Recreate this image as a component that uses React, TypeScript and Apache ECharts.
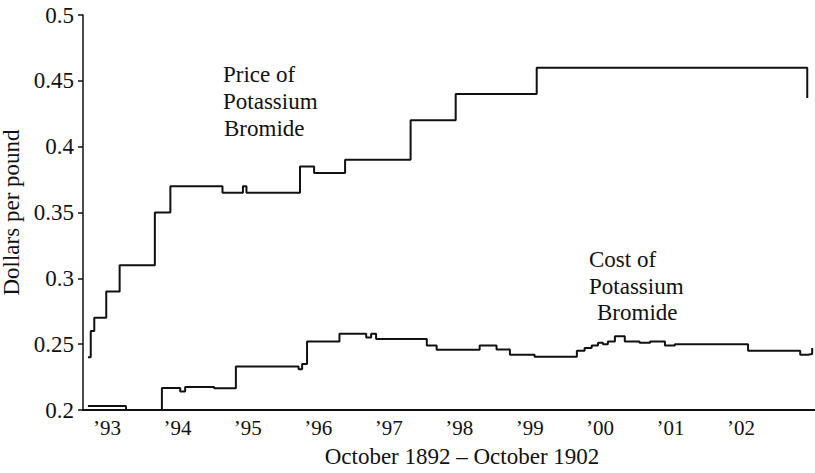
import { useEffect, useRef } from "react";
import * as echarts from "echarts";

const yearTicks = [1893, 1894, 1895, 1896, 1897, 1898, 1899, 1900, 1901, 1902];
const yearLabels = ["’93", "’94", "’95", "’96", "’97", "’98", "’99", "’00", "’01", "’02"];

const yTicks = [0.2, 0.25, 0.3, 0.35, 0.4, 0.45, 0.5];

const priceYears = [
  1892.73, 1892.77, 1892.82, 1892.99, 1893.18, 1893.68, 1893.9, 1894.64, 1894.93,
  1894.98, 1895.74, 1895.94, 1896.38, 1897.31, 1897.95, 1899.1, 1902.94, 1902.95,
];
const priceValues = [
  0.24, 0.26, 0.27, 0.29, 0.31, 0.35, 0.37, 0.365, 0.37,
  0.365, 0.385, 0.38, 0.39, 0.42, 0.44, 0.46, 0.437, 0.437,
];

const costYears = [
  1892.73, 1893.27, 1893.78, 1894.04, 1894.11, 1894.52, 1894.83, 1895.72, 1895.77,
  1895.84, 1896.3, 1896.68, 1896.75, 1896.82, 1897.54, 1897.68, 1898.29, 1898.53,
  1898.72, 1899.07, 1899.67, 1899.78, 1899.88, 1899.97, 1900.04, 1900.11, 1900.21,
  1900.35, 1900.56, 1900.71, 1900.92, 1901.06, 1902.1, 1902.84, 1902.95, 1903.01,
];
const costValues = [
  0.203, 0.2, 0.2167, 0.214, 0.2175, 0.2165, 0.233, 0.231, 0.235,
  0.252, 0.258, 0.255, 0.258, 0.254, 0.249, 0.2457, 0.249, 0.246,
  0.242, 0.2405, 0.245, 0.247, 0.249, 0.251, 0.25, 0.252, 0.256,
  0.252, 0.251, 0.252, 0.249, 0.25, 0.245, 0.242, 0.2425, 0.247,
];

const yAxisTitle = "Dollars per pound";
const xAxisTitle = "October 1892 – October 1902";
const priceLabel = ["Price of", "Potassium", "Bromide"];
const costLabel = ["Cost of", "Potassium", "Bromide"];

const FONT = "'Liberation Serif', 'Times New Roman', serif";
const INK = "#111";

export default function App() {
  const ref = useRef<HTMLDivElement>(null);

  useEffect(() => {
    if (!ref.current) return;
    const chart = echarts.init(ref.current, null, { renderer: "svg" });
    const price = priceYears.map((x, i) => [x, priceValues[i]]);
    const cost = costYears.map((x, i) => [x, costValues[i]]);

    const textEl = (t: string, x: number, y: number, size = 23) => ({
      type: "text",
      x,
      y,
      style: {
        text: t,
        font: `${size}px ${FONT}`,
        fill: INK,
        textAlign: "left",
        textVerticalAlign: "middle",
        lineHeight: 20,
      },
    });

    chart.setOption({
      animation: false,
      backgroundColor: "#fff",
      grid: {
        left: 83,
        right: 0,
        top: 15,
        bottom: 63,
        containLabel: false,
        outerBoundsMode: "none",
      },
      xAxis: {
        type: "value",
        min: 1892.66,
        max: 1903.05,
        axisLine: { show: true, lineStyle: { color: INK, width: 2 } },
        axisTick: { show: false },
        splitLine: { show: false },
        axisLabel: {
          customValues: yearTicks,
          formatter: (v: number) => yearLabels[yearTicks.indexOf(Math.round(v))] ?? "",
          color: INK,
          fontFamily: FONT,
          fontSize: 21,
          lineHeight: 16,
          margin: 10,
        },
      },
      yAxis: {
        type: "value",
        min: 0.2,
        max: 0.5,
        interval: 0.05,
        name: yAxisTitle,
        nameLocation: "middle",
        nameGap: 48,
        nameTextStyle: { color: INK, fontFamily: FONT, fontSize: 23 },
        axisLine: { show: true, lineStyle: { color: INK, width: 1.5 } },
        axisTick: { show: true, length: 5, lineStyle: { color: INK, width: 1.5 } },
        splitLine: { show: false },
        axisLabel: {
          customValues: yTicks,
          formatter: (v: number) => String(Math.round(v * 100) / 100),
          color: INK,
          fontFamily: FONT,
          fontSize: 23,
          margin: 9,
        },
      },
      graphic: [
        textEl(priceLabel[0], 223, 74),
        textEl(priceLabel[1], 223, 101),
        textEl(priceLabel[2], 224, 128),
        textEl(costLabel[0], 589, 259),
        textEl(costLabel[1], 589, 286),
        textEl(costLabel[2], 597, 312),
        {
          type: "text",
          x: 462,
          y: 456,
          style: {
            text: xAxisTitle,
            font: `23px ${FONT}`,
            fill: INK,
            textAlign: "center",
            textVerticalAlign: "middle",
            lineHeight: 17,
          },
        },
      ],
      series: [
        {
          type: "line",
          data: price,
          step: "end",
          symbol: "none",
          lineStyle: { color: INK, width: 2 },
          silent: true,
        },
        {
          type: "line",
          data: cost,
          step: "end",
          symbol: "none",
          lineStyle: { color: INK, width: 2 },
          silent: true,
        },
      ],
    });
    return () => chart.dispose();
  }, []);

  return (
    <div
      ref={ref}
      style={{ position: "fixed", left: 0, top: 0, width: 815, height: 473, background: "#fff" }}
    />
  );
}
